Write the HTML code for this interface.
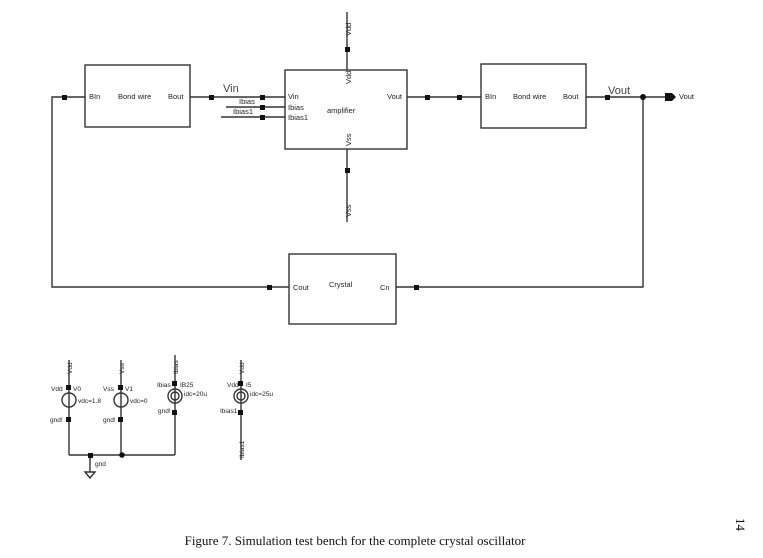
<!DOCTYPE html>
<html><head><style>body{margin:0;background:#fff}svg{display:block}</style></head><body>
<svg width="763" height="558" xmlns="http://www.w3.org/2000/svg" font-family="Liberation Sans, sans-serif">
<g stroke="#333" stroke-width="1.4" fill="none">
<rect x="85" y="65" width="105" height="62"/>
<rect x="285" y="70" width="122" height="79"/>
<rect x="481" y="64" width="105" height="64"/>
<rect x="289" y="254" width="107" height="70"/>
<polyline points="85,97 52,97 52,287 289,287"/>
<line x1="190" y1="97" x2="285" y2="97"/>
<line x1="226" y1="107" x2="285" y2="107"/>
<line x1="221" y1="117" x2="285" y2="117"/>
<line x1="347" y1="12" x2="347" y2="70"/>
<line x1="347" y1="149" x2="347" y2="222"/>
<line x1="407" y1="97" x2="481" y2="97"/>
<line x1="586" y1="97" x2="666" y2="97"/>
<polyline points="643,97 643,287 396,287"/>
<line x1="69" y1="360" x2="69" y2="455"/>
<line x1="121" y1="360" x2="121" y2="455"/>
<line x1="175" y1="355" x2="175" y2="455"/>
<line x1="69" y1="455" x2="175" y2="455"/>
<line x1="90" y1="455" x2="90" y2="472"/>
<line x1="241" y1="360" x2="241" y2="460"/>
<circle cx="69" cy="400" r="7"/><circle cx="121" cy="400" r="7"/>
<circle cx="175" cy="396" r="7"/><circle cx="175" cy="396" r="4"/>
<circle cx="241" cy="396" r="7"/><circle cx="241" cy="396" r="4"/>
<polygon points="85,472 95,472 90,478"/>
</g>
<g fill="#111">
<rect x="62" y="95" width="5" height="5"/><rect x="209" y="95" width="5" height="5"/>
<rect x="260" y="95" width="5" height="5"/><rect x="260" y="105" width="5" height="5"/><rect x="260" y="115" width="5" height="5"/>
<rect x="345" y="47" width="5" height="5"/><rect x="345" y="168" width="5" height="5"/>
<rect x="425" y="95" width="5" height="5"/><rect x="457" y="95" width="5" height="5"/><rect x="605" y="95" width="5" height="5"/>
<circle cx="643" cy="97" r="3"/>
<polygon points="665,93 672,93 676,97 672,101 665,101"/>
<rect x="267" y="285" width="5" height="5"/><rect x="414" y="285" width="5" height="5"/>
<rect x="66" y="385" width="5" height="5"/><rect x="66" y="417" width="5" height="5"/>
<rect x="118" y="385" width="5" height="5"/><rect x="118" y="417" width="5" height="5"/>
<rect x="172" y="381" width="5" height="5"/><rect x="172" y="410" width="5" height="5"/>
<rect x="238" y="381" width="5" height="5"/><rect x="238" y="410" width="5" height="5"/>
<rect x="88" y="453" width="5" height="5"/><circle cx="122" cy="455" r="2.8"/>
</g>
<g font-size="7.5" fill="#222">
<text x="89" y="99">BIn</text><text x="118" y="99">Bond wire</text><text x="168" y="99">Bout</text>
<text x="288" y="99">Vin</text><text x="288" y="110">Ibias</text><text x="288" y="120">Ibias1</text>
<text x="327" y="113">amplifier</text><text x="387" y="99">Vout</text>
<text x="239" y="104">Ibias</text><text x="233" y="114">Ibias1</text>
<text x="485" y="99">BIn</text><text x="513" y="99">Bond wire</text><text x="563" y="99">Bout</text>
<text x="679" y="99">Vout</text>
<text x="293" y="290">Cout</text><text x="329" y="287">Crystal</text><text x="380" y="290">Cn</text>
<text transform="translate(351,84) rotate(-90)">Vdd</text>
<text transform="translate(351,146) rotate(-90)">Vss</text>
<text transform="translate(351,36) rotate(-90)">Vdd</text>
<text transform="translate(351,217) rotate(-90)">Vss</text>
<g font-size="6.5">
<text transform="translate(72,374) rotate(-90)">Vdd</text>
<text transform="translate(124,374) rotate(-90)">Vss</text>
<text transform="translate(178,374) rotate(-90)">Ibias</text>
<text transform="translate(244,374) rotate(-90)">Vdd</text>
<text transform="translate(244,458) rotate(-90)">Ibias1</text>
<text x="51" y="391">Vdd</text><text x="73" y="391">V0</text><text x="78" y="403">vdc=1.8</text>
<text x="50" y="422">gnd!</text>
<text x="103" y="391">Vss</text><text x="125" y="391">V1</text><text x="130" y="403">vdc=0</text>
<text x="103" y="422">gnd!</text>
<text x="157" y="387">Ibias</text><text x="180" y="387">IB25</text><text x="184" y="396">idc=20u</text>
<text x="158" y="413">gnd!</text>
<text x="227" y="387">Vdd</text><text x="246" y="387">I5</text><text x="250" y="396">idc=25u</text>
<text x="220" y="413">Ibias1</text>
<text x="95" y="466">gnd</text>
</g>
</g>
<text x="223" y="92" font-size="11" fill="#444">Vin</text>
<text x="608" y="94" font-size="11" fill="#444">Vout</text>
<text x="355" y="545" font-size="13" font-family="Liberation Serif, serif" text-anchor="middle" fill="#111">Figure 7. Simulation test bench for the complete crystal oscillator</text>
<text transform="translate(736,518) rotate(90)" font-size="13" font-family="Liberation Serif, serif" fill="#111">14</text>
</svg>
</body></html>
